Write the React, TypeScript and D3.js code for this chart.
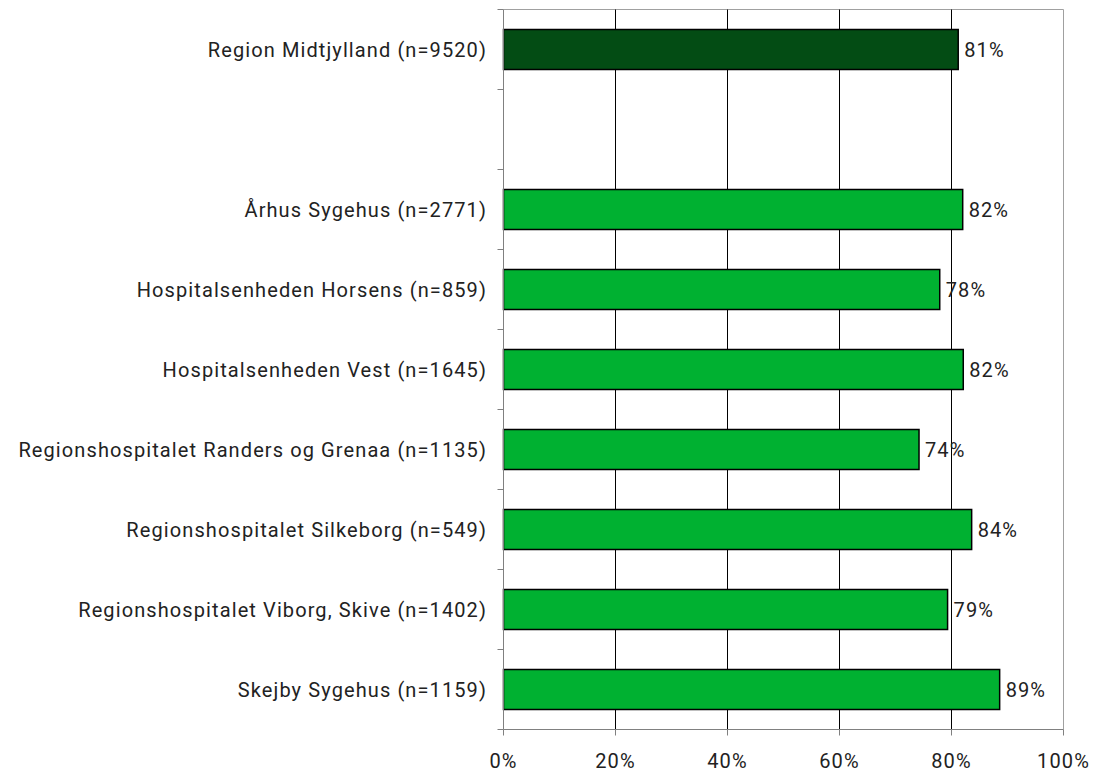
import React from "react";
import * as d3 from "d3";

const categories = [
  "Region Midtjylland (n=9520)",
  "",
  "Århus Sygehus (n=2771)",
  "Hospitalsenheden Horsens (n=859)",
  "Hospitalsenheden Vest (n=1645)",
  "Regionshospitalet Randers og Grenaa (n=1135)",
  "Regionshospitalet Silkeborg (n=549)",
  "Regionshospitalet Viborg, Skive (n=1402)",
  "Skejby Sygehus (n=1159)",
];
const values: (number | null)[] = [81.2, null, 82.0, 77.9, 82.1, 74.2, 83.6, 79.3, 88.6];
const valueLabels = ["81%", "", "82%", "78%", "82%", "74%", "84%", "79%", "89%"];
const xTicks = [0, 20, 40, 60, 80, 100];

export default function App() {
  const W = 1095, H = 776;
  const left = 503.5, right = 1063.5, top = 9.5, bottom = 729.5;
  const x = d3.scaleLinear().domain([0, 100]).range([left, right]);
  const y = d3.scaleBand<number>().domain(d3.range(categories.length)).range([top, bottom]).paddingInner(0.5).paddingOuter(0.25);
  const band = d3.scaleBand<number>().domain(d3.range(categories.length)).range([top, bottom]);
  const font = "Roboto, 'DejaVu Sans', sans-serif";
  const fs = 20;
  const ls = 1.1;
  return (
    <svg width={W} height={H} style={{ position: "absolute", left: 0, top: 0 }} fontFamily={font}>
      <rect x={0} y={0} width={W} height={H} fill="#fff" />
      <line x1={left} x2={right} y1={top} y2={top} stroke="#a0a0a0" />
      <line x1={right} x2={right} y1={top} y2={bottom} stroke="#a0a0a0" />
      {xTicks.slice(1, -1).map((t) => (
        <line key={t} x1={x(t)} x2={x(t)} y1={top} y2={bottom} stroke="#000" />
      ))}
      {values.map((v, i) =>
        v == null ? null : (
          <g key={i}>
            <rect
              x={x(0)}
              y={y(i)!}
              width={x(v) - x(0)}
              height={y.bandwidth()}
              fill={i === 0 ? "#034c14" : "#00b131"}
              stroke="#000"
              strokeWidth={1.5}
            />
            <text x={x(v) + 6} y={y(i)! + y.bandwidth() / 2} dy="0.35em" fontSize={fs} letterSpacing={ls} fill="#222">
              {valueLabels[i]}
            </text>
          </g>
        )
      )}
      <line x1={left} x2={left} y1={top} y2={bottom} stroke="#808080" />
      <line x1={left} x2={right} y1={bottom} y2={bottom} stroke="#808080" />
      {d3.range(categories.length + 1).map((i) => {
        const yy = i < categories.length ? band(i)! : bottom;
        return <line key={i} x1={left - 6} x2={left} y1={yy} y2={yy} stroke="#808080" />;
      })}
      {xTicks.map((t) => (
        <g key={t}>
          <line x1={x(t)} x2={x(t)} y1={bottom} y2={bottom + 6} stroke="#808080" />
          <text x={x(t)} y={761} dy="0.35em" textAnchor="middle" fontSize={fs} letterSpacing={ls} fill="#222">
            {t}%
          </text>
        </g>
      ))}
      {categories.map((c, i) =>
        c ? (
          <text key={i} x={487} y={band(i)! + band.bandwidth() / 2} dy="0.35em" textAnchor="end" fontSize={fs} letterSpacing={ls} fill="#222">
            {c}
          </text>
        ) : null
      )}
    </svg>
  );
}
